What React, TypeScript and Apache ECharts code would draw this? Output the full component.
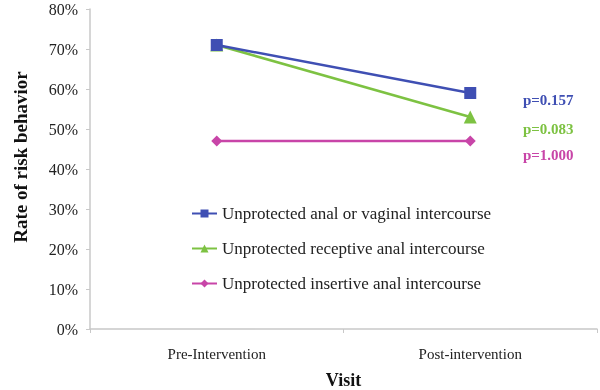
import React, { useEffect, useRef } from "react";
import * as echarts from "echarts";

const categories = ["Pre-Intervention", "Post-intervention"];
const seriesNames = [
  "Unprotected anal or vaginal intercourse",
  "Unprotected receptive anal intercourse",
  "Unprotected insertive anal intercourse",
];
const anyUnprotected = [71, 59];
const receptive = [71, 53];
const insertive = [47, 47];
const pValues = ["p=0.157", "p=0.083", "p=1.000"];
const yTicks = [0, 10, 20, 30, 40, 50, 60, 70, 80];

const FONT = "'Liberation Serif', 'Times New Roman', serif";
const colors = ["#3F4FB3", "#7DC242", "#C845A8"];
const symbols = ["rect", "triangle", "diamond"];
const symbolSizes = [12, 13, 11];
const labelOffsets = [[78, 7], [78, 12], [78, 14]];

export default function App() {
  const ref = useRef<HTMLDivElement>(null);
  useEffect(() => {
    if (!ref.current) return;
    const chart = echarts.init(ref.current, undefined, { renderer: "svg" });
    const all = [anyUnprotected, receptive, insertive];
    const series = all.map((vals, i) => ({
      name: seriesNames[i],
      type: "line",
      data: vals.map((v, j) =>
        j === vals.length - 1
          ? {
              value: v,
              label: {
                show: true,
                position: "inside",
                offset: labelOffsets[i],
                formatter: pValues[i],
                color: colors[i],
                fontFamily: FONT,
                fontWeight: "bold",
                fontSize: 15,
              },
            }
          : v
      ),
      symbol: symbols[i],
      symbolSize: symbolSizes[i],
      lineStyle: { color: colors[i], width: 2.5 },
      itemStyle: { color: colors[i] },
      z: 3 - i,
    }));
    chart.setOption({
      animation: false,
      grid: { left: 90, right: 3, top: 9, bottom: 61, outerBoundsMode: "none", containLabel: false },
      legend: {
        orient: "vertical",
        left: 186,
        top: 200,
        itemGap: 18,
        itemWidth: 25,
        itemHeight: 10,
        textStyle: { fontFamily: FONT, fontSize: 17, color: "#222" },
        data: seriesNames,
      },
      xAxis: {
        type: "category",
        data: categories,
        boundaryGap: true,
        name: "Visit",
        nameLocation: "middle",
        nameGap: 42,
        nameTextStyle: { fontFamily: FONT, fontSize: 18, fontWeight: "bold", color: "#111" },
        axisLine: { lineStyle: { color: "#c8c8c8", width: 1.5 } },
        axisTick: { show: true, length: 4, lineStyle: { color: "#c8c8c8" } },
        axisLabel: { fontFamily: FONT, fontSize: 15, color: "#222", margin: 17 },
      },
      yAxis: {
        type: "value",
        min: yTicks[0],
        max: yTicks[yTicks.length - 1],
        interval: 10,
        name: "Rate of risk behavior",
        nameLocation: "middle",
        nameGap: 60,
        nameTextStyle: {
          fontFamily: FONT,
          fontSize: 19,
          fontWeight: "bold",
          color: "#111",
          padding: [0, 0, 0, 24],
        },
        axisLine: { show: true, lineStyle: { color: "#c8c8c8", width: 1.5 } },
        axisTick: { show: true, length: 4, lineStyle: { color: "#c8c8c8" } },
        splitLine: { show: false },
        axisLabel: {
          fontFamily: FONT,
          fontSize: 16,
          color: "#222",
          margin: 12,
          formatter: (v: number) => v + "%",
        },
      },
      series,
    });
    return () => chart.dispose();
  }, []);
  return (
    <div
      ref={ref}
      style={{ position: "fixed", left: 0, top: 0, width: 600, height: 390 }}
    />
  );
}
